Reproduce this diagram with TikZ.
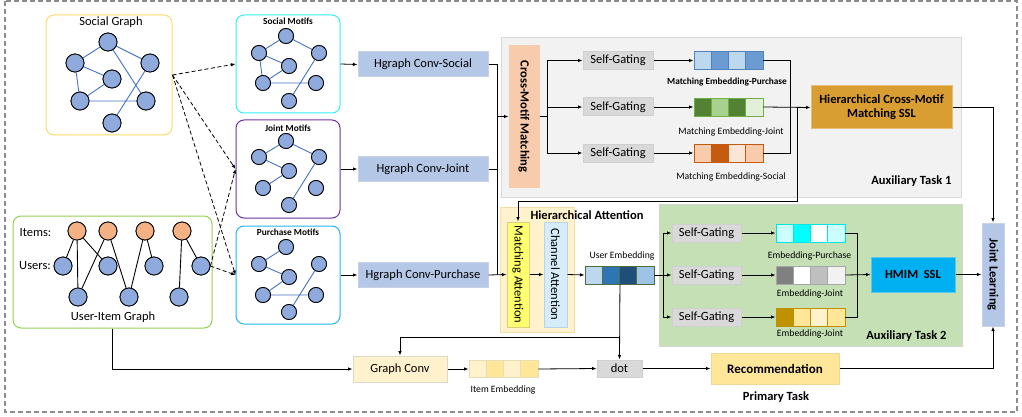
\documentclass[tikz,border=0pt]{standalone}
\usepackage{fontspec}
\setmainfont{Carlito}
\usetikzlibrary{arrows.meta,calc}
\definecolor{sgY}{HTML}{FFD966}
\definecolor{uiG}{HTML}{92D050}
\definecolor{smC}{HTML}{33F0F8}
\definecolor{jmP}{HTML}{7030A0}
\definecolor{pmB}{HTML}{1FB5F0}
\definecolor{nodeB}{HTML}{8FAADC}
\definecolor{edgeB}{HTML}{4472C4}
\definecolor{itemO}{HTML}{F4B183}
\definecolor{hgF}{HTML}{B4C7E7}
\definecolor{hgD}{HTML}{C8D2E2}
\definecolor{auxOne}{HTML}{F2F2F2}
\definecolor{auxOneD}{HTML}{D9D9D9}
\definecolor{cmF}{HTML}{F8CBAD}
\definecolor{sgF}{HTML}{D9D9D9}
\definecolor{sgD}{HTML}{CFCFCF}
\definecolor{hcmF}{HTML}{D99E32}
\definecolor{hcmD}{HTML}{E6BE78}
\definecolor{haF}{HTML}{FFF2CC}
\definecolor{haD}{HTML}{F2DFA8}
\definecolor{maF}{HTML}{FFFF70}
\definecolor{maD}{HTML}{E0CC80}
\definecolor{caF}{HTML}{D6ECF8}
\definecolor{caD}{HTML}{B8D4E8}
\definecolor{auxTwo}{HTML}{C5E0B4}
\definecolor{auxTwoD}{HTML}{D4D4D4}
\definecolor{hmimF}{HTML}{00B0F0}
\definecolor{hmimD}{HTML}{5CC8F0}
\definecolor{gcF}{HTML}{FFF2CC}
\definecolor{gcD}{HTML}{DDD8C8}
\definecolor{recF}{HTML}{FFE699}
\definecolor{recD}{HTML}{F0D890}
\definecolor{dotF}{HTML}{D9D9D9}
\definecolor{jlF}{HTML}{B4C7E7}
\definecolor{jlD}{HTML}{C8D2E2}
% embedding cell colours
\definecolor{pA}{HTML}{BDD7EE}\definecolor{pB}{HTML}{6A9BD1}\definecolor{pD}{HTML}{4F81BD}
\definecolor{jA}{HTML}{548235}\definecolor{jB}{HTML}{A9D18E}\definecolor{jC}{HTML}{E2F0D9}\definecolor{jD}{HTML}{70AD47}
\definecolor{sA}{HTML}{F8CBAD}\definecolor{sB}{HTML}{C55A11}\definecolor{sC}{HTML}{FBE5D6}\definecolor{sD}{HTML}{C55A11}
\definecolor{uA}{HTML}{BDD7EE}\definecolor{uB}{HTML}{2E75B6}\definecolor{uC}{HTML}{1F4E79}\definecolor{uE}{HTML}{9DC3E6}\definecolor{uD}{HTML}{4E6E3A}
\definecolor{cyA}{HTML}{CCFFFF}\definecolor{cyB}{HTML}{00FFFF}\definecolor{cyD}{HTML}{00E5E5}
\definecolor{gA}{HTML}{808080}\definecolor{gB}{HTML}{BFBFBF}\definecolor{gC}{HTML}{F2F2F2}\definecolor{gD}{HTML}{A6A6A6}
\definecolor{yA}{HTML}{BF9000}\definecolor{yB}{HTML}{FFE699}\definecolor{yC}{HTML}{FFF2CC}\definecolor{yD}{HTML}{BF9000}
\definecolor{iD}{HTML}{E8DDB5}
\definecolor{outerD}{HTML}{8C8C8C}

\tikzset{
  fA/.style={font=\fontsize{12.5}{14}\selectfont},
  fB/.style={font=\bfseries\fontsize{12.5}{14}\selectfont},
  fS/.style={font=\fontsize{9.7}{11}\selectfont},
  fSB/.style={font=\bfseries\fontsize{9.3}{11}\selectfont},
  panel/.style={draw, line width=1pt, inner sep=0},
  rbox/.style={draw, rounded corners=8pt, line width=1pt, inner sep=0},
  gnode/.style={circle, draw=black, fill=nodeB, line width=0.8pt, minimum size=18pt, inner sep=0},
  inode/.style={gnode, fill=itemO},
  mnode/.style={circle, draw=black, fill=nodeB, line width=0.8pt, minimum size=15pt, inner sep=0},
  bedge/.style={draw=edgeB, line width=0.9pt},
  kedge/.style={draw=black, line width=0.9pt},
  cell/.style={draw, line width=0.9pt, minimum width=17.25pt, minimum height=18pt, inner sep=0},
  ln/.style={draw=black, line width=0.8pt},
  arr/.style={ln, -{Latex[length=4.5pt,width=3.5pt]}},
  darr/.style={arr, dashed, dash pattern=on 4pt off 2.5pt},
  hgbox/.style={panel, fill=hgF, draw=hgD, minimum width=130pt, minimum height=25pt, fA},
  sgbox/.style={panel, fill=sgF, draw=sgD, minimum height=18pt, fA},
}

\newcommand{\embrow}[9]{%
  \foreach \i/\c in {1/#4,2/#5,3/#6,4/#7} {
    \node[cell, fill=\c, draw=#8, minimum height=#9] (#1\i) at ({#2+(\i-0.5)*17.25},#3) {};
  }}

\begin{document}
\begin{tikzpicture}[x=1pt,y=-1pt]
\useasboundingbox (0,0) rectangle (1022,417);
% outer dashed frame
\draw[outerD, line width=1.3pt, dash pattern=on 5pt off 3pt] (5,1) rectangle (1017,412);

% ---------- Social graph ----------
\node[rbox, draw=sgY, minimum width=126pt, minimum height=120pt] (sg) at (109,75) {};
\node[fA] (sgt) at (111,22) {Social Graph};
\node[gnode] (a1) at (108,42) {};
\node[gnode] (a2) at (75,63) {};
\node[gnode] (a3) at (150,63) {};
\node[gnode] (a4) at (112,79) {};
\node[gnode] (a5) at (80,101) {};
\node[gnode] (a6) at (146,101) {};
\node[gnode] (a7) at (112,123) {};
\path[bedge] (a1) -- (a2) (a1) -- (a3) (a1) -- (a6) (a2) -- (a4) (a2) -- (a5)
  (a5) -- (a4) (a5) -- (a6) (a3) -- (a7);
\foreach \n in {a1,a2,a3,a4,a5,a6,a7} \node[gnode] at (\n) {};

% ---------- User-Item graph ----------
\node[rbox, draw=uiG, minimum width=199pt, minimum height=112pt] (ui) at (112.5,272) {};
\node[fA] (itl) at (35.5,233) {Items:};
\node[fA] (usl) at (35,266) {Users:};
\node[fA] (uit) at (113,317) {User-Item Graph};
\node[inode] (i1) at (77,231) {};
\node[inode] (i2) at (108,231) {};
\node[inode] (i3) at (145,231) {};
\node[inode] (i4) at (182,231) {};
\node[gnode] (u1) at (63,266) {};
\node[gnode] (u2) at (108,266) {};
\node[gnode] (u3) at (154,266) {};
\node[gnode] (u4) at (201,266) {};
\node[gnode] (u5) at (78,297) {};
\node[gnode] (u6) at (129,297) {};
\node[gnode] (u7) at (179,297) {};
\path[kedge] (i1) -- (u1) (i1) -- (u5) (i1) -- (u2) (i2) -- (u5) (i2) -- (u6)
  (i3) -- (u6) (i3) -- (u3) (i4) -- (u7) (i4) -- (u4);
\foreach \n in {u1,u2,u3,u4,u5,u6,u7} \node[gnode] at (\n) {};
\foreach \n in {i1,i2,i3,i4} \node[inode] at (\n) {};

% ---------- Motif boxes ----------
\node[rbox, draw=smC, minimum width=104pt, minimum height=98pt] (sm) at (288,64) {};
\node[fSB] (smt) at (288,21) {Social Motifs};
\node[mnode] (b1) at (286,36) {};
\node[mnode] (b2) at (259,53) {};
\node[mnode] (b3) at (319,53) {};
\node[mnode] (b4) at (289,66) {};
\node[mnode] (b5) at (263,83) {};
\node[mnode] (b6) at (316,83) {};
\node[mnode] (b7) at (289,101) {};
\path[bedge] (b1) -- (b2) (b1) -- (b3) (b2) -- (b4) (b2) -- (b5) (b5) -- (b4) (b5) -- (b6) (b3) -- (b7);
\foreach \n in {b1,b2,b3,b4,b5,b6,b7} \node[mnode] at (\n) {};

\node[rbox, draw=jmP, minimum width=104pt, minimum height=98pt] (jm) at (288,169) {};
\node[fSB] (jmt) at (288,128) {Joint Motifs};
\node[mnode] (c1) at (286,141) {};
\node[mnode] (c2) at (259,157) {};
\node[mnode] (c3) at (319,157) {};
\node[mnode] (c4) at (289,171) {};
\node[mnode] (c5) at (263,188) {};
\node[mnode] (c6) at (316,188) {};
\node[mnode] (c7) at (289,205) {};
\path[bedge] (c1) -- (c2) (c1) -- (c3) (c2) -- (c4) (c5) -- (c4) (c3) -- (c7);
\foreach \n in {c1,c2,c3,c4,c5,c6,c7} \node[mnode] at (\n) {};

\node[rbox, draw=pmB, minimum width=104pt, minimum height=98pt] (pm) at (288,275) {};
\node[fSB] (pmt) at (288,232) {Purchase Motifs};
\node[mnode] (d1) at (286,247) {};
\node[mnode] (d2) at (259,264) {};
\node[mnode] (d3) at (319,264) {};
\node[mnode] (d4) at (289,277) {};
\node[mnode] (d5) at (263,295) {};
\node[mnode] (d6) at (316,295) {};
\node[mnode] (d7) at (289,312) {};
\path[bedge] (d1) -- (d2) (d2) -- (d4) (d5) -- (d4) (d5) -- (d6) (d3) -- (d7);
\foreach \n in {d1,d2,d3,d4,d5,d6,d7} \node[mnode] at (\n) {};

% dashed arrows
\draw[darr] (sg.east) -- (sm.west);
\draw[darr] (sg.east) -- (jm.west);
\draw[darr] (sg.east) -- (pm.west);
\draw[darr] (u4.east) -- (jm.west);
\draw[darr] (u4.east) -- (pm.west);

% ---------- Hgraph conv ----------
\node[hgbox] (hs) at (423,64.5) {Hgraph Conv-Social};
\node[hgbox] (hj) at (423,169) {Hgraph Conv-Joint};
\node[hgbox] (hp) at (423,275) {Hgraph Conv-Purchase};
\draw[arr] (sm.east) -- (hs.west);
\draw[arr] (jm.east) -- (hj.west);
\draw[arr] (pm.east) -- (hp.west);

% ---------- Auxiliary task 1 ----------
\node[panel, fill=auxOne, draw=auxOneD, minimum width=460pt, minimum height=159pt] (ax1) at (731,117.5) {};
\node[fB, anchor=east] (ax1t) at (955,181) {Auxiliary Task 1};
\node[panel, fill=cmF, draw=cmF, minimum width=30pt, minimum height=141pt] (cm) at (524,116.5) {};
\node[fB, rotate=-90] (cmt) at (cm) {Cross-Motif Matching};
\node[sgbox, minimum width=70pt] (g1) at (618,60.5) {Self-Gating};
\node[sgbox, minimum width=70pt] (g2) at (618,107) {Self-Gating};
\node[sgbox, minimum width=70pt] (g3) at (618,153) {Self-Gating};
\embrow{mp}{694}{60.5}{pA}{pB}{pA}{pB}{pD}{18pt}
\embrow{mj}{694}{107}{jA}{jB}{jA}{jC}{jD}{18pt}
\embrow{ms}{694}{153}{sA}{sB}{sC}{sA}{sD}{18pt}
\node[fSB] (mpl) at (727,82) {Matching Embedding-Purchase};
\node[fS] (mjl) at (731,132) {Matching Embedding-Joint};
\node[fS] (msl) at (731,177) {Matching Embedding-Social};
\node[panel, fill=hcmF, draw=hcmD, minimum width=141pt, minimum height=43pt, fB, align=center] (hcm) at (881.5,107.5) {Hierarchical Cross-Motif\\Matching SSL};

% ---------- Hierarchical attention ----------
\node[panel, fill=haF, draw=haD, minimum width=74pt, minimum height=125pt] (ha) at (537,269.5) {};
\node[fB] (hat) at (587,215) {Hierarchical Attention};
\node[panel, fill=maF, draw=maD, minimum width=22pt, minimum height=105pt] (ma) at (518,274.5) {};
\node[fA, rotate=-90] (mat) at (ma) {Matching Attention};
\node[panel, fill=caF, draw=caD, minimum width=23pt, minimum height=105pt] (ca) at (555.5,274.5) {};
\node[fA, rotate=-90] (cat) at (ca) {Channel Attention};
\embrow{ue}{585}{275}{uA}{uB}{uC}{uE}{uD}{18pt}
\node[fS] (uel) at (622,256) {User Embedding};

% ---------- Auxiliary task 2 ----------
\node[panel, fill=auxTwo, draw=auxTwoD, minimum width=303pt, minimum height=142pt] (ax2) at (810.5,275) {};
\node[fB, anchor=east] (ax2t) at (950,336) {Auxiliary Task 2};
\node[sgbox, minimum width=69pt] (h1) at (706.5,233) {Self-Gating};
\node[sgbox, minimum width=69pt] (h2) at (706.5,275) {Self-Gating};
\node[sgbox, minimum width=69pt] (h3) at (706.5,317) {Self-Gating};
\embrow{ep}{776}{233}{cyA}{cyB}{white}{cyA}{cyD}{18pt}
\embrow{ej}{776}{275}{gA}{white}{gB}{gC}{gD}{18pt}
\embrow{ey}{776}{317}{yA}{yB}{yC}{yB}{yD}{18pt}
\node[fS] (epl) at (809.5,256) {Embedding-Purchase};
\node[fS] (ejl) at (810,294) {Embedding-Joint};
\node[fS] (eyl) at (810,334) {Embedding-Joint};
\node[panel, fill=hmimF, draw=hmimD, minimum width=84pt, minimum height=35pt, fB] (hmim) at (913,274.5) {HMIM\ \ SSL};

% ---------- Joint learning ----------
\node[panel, fill=jlF, draw=jlD, minimum width=22pt, minimum height=103pt] (jl) at (993,274.5) {};
\node[fB, rotate=-90] (jlt) at (jl) {Joint Learning};

% ---------- bottom row ----------
\node[panel, fill=gcF, draw=gcD, minimum width=94pt, minimum height=26pt, fA] (gc) at (400,369) {Graph Conv};
\embrow{ie}{469}{369}{gcF}{recF}{gcF}{recF}{iD}{17pt}
\node[fS] (iel) at (503,390) {Item Embedding};
\node[panel, fill=dotF, draw=sgD, minimum width=45pt, minimum height=17pt, fA] (dot) at (619.5,368.5) {dot};
\node[panel, fill=recF, draw=recD, minimum width=128pt, minimum height=31pt, font=\bfseries\fontsize{13}{15}\selectfont] (rec) at (775,368.5) {Recommendation};
\node[fB] (prt) at (776,397) {Primary Task};

% ---------- connectors ----------
\coordinate (busx) at (497,0);
\draw[ln] (hs.east) -| (busx |- hp.east);
\draw[ln] (hj.east) -- (busx |- hj.east);
\draw[arr] (busx |- cm.west) -- (cm.west);
\draw[arr] (hp.east) -- (ma.west);

\coordinate (cbus) at (547,0);
\draw[ln] (cm.east) -- (cbus |- cm.east);
\draw[arr] (cbus |- cm.east) |- (g1.west);
\draw[arr] (cbus |- cm.east) |- (g2.west);
\draw[arr] (cbus |- cm.east) |- (g3.west);
\draw[arr] (g1.east) -- (mp1.west);
\draw[arr] (g2.east) -- (mj1.west);
\draw[arr] (g3.east) -- (ms1.west);
\coordinate (mbus) at (790,0);
\draw[ln] (mp4.east) -| (mbus |- ms4.east) -- (ms4.east);
\draw[arr] (mj4.east) -- (hcm.west);
\coordinate (fbA) at (797,107);
\coordinate (fbB) at (797,201);
\draw[arr] (fbA) -- (fbB) -| (ma.north);
\draw[arr] (hcm.east) -| (jl.north);

\draw[arr] (ma.east) -- (ca.west);
\draw[arr] (ca.east) -- (ue1.west);
\coordinate (ubus) at (663,0);
\draw[ln] (ue4.east) -- (ubus |- ue4.east);
\draw[arr] (ubus |- ue4.east) |- (h1.west);
\draw[arr] (ubus |- ue4.east) |- (h2.west);
\draw[arr] (ubus |- ue4.east) |- (h3.west);
\draw[arr] (h1.east) -- (ep1.west);
\draw[arr] (h2.east) -- (ej1.west);
\draw[arr] (h3.east) -- (ey1.west);
\coordinate (ebus) at (857,0);
\draw[ln] (ep4.east) -| (ebus |- ey4.east) -- (ey4.east);
\draw[arr] (ej4.east) -- (hmim.west);
\draw[arr] (hmim.east) -- (jl.west);

\coordinate (ub) at (619.5,337);
\draw[arr] (ue2.south east) -- (dot.north);
\draw[arr] (ub) -| (gc.north);
\draw[arr] (ui.south) |- (gc.west);
\draw[arr] (gc.east) -- (ie1.west);
\draw[arr] (ie4.east) -- (dot.west);
\draw[arr] (dot.east) -- (rec.west);
\draw[arr] (rec.east) -| (jl.south);
\end{tikzpicture}
\end{document}
